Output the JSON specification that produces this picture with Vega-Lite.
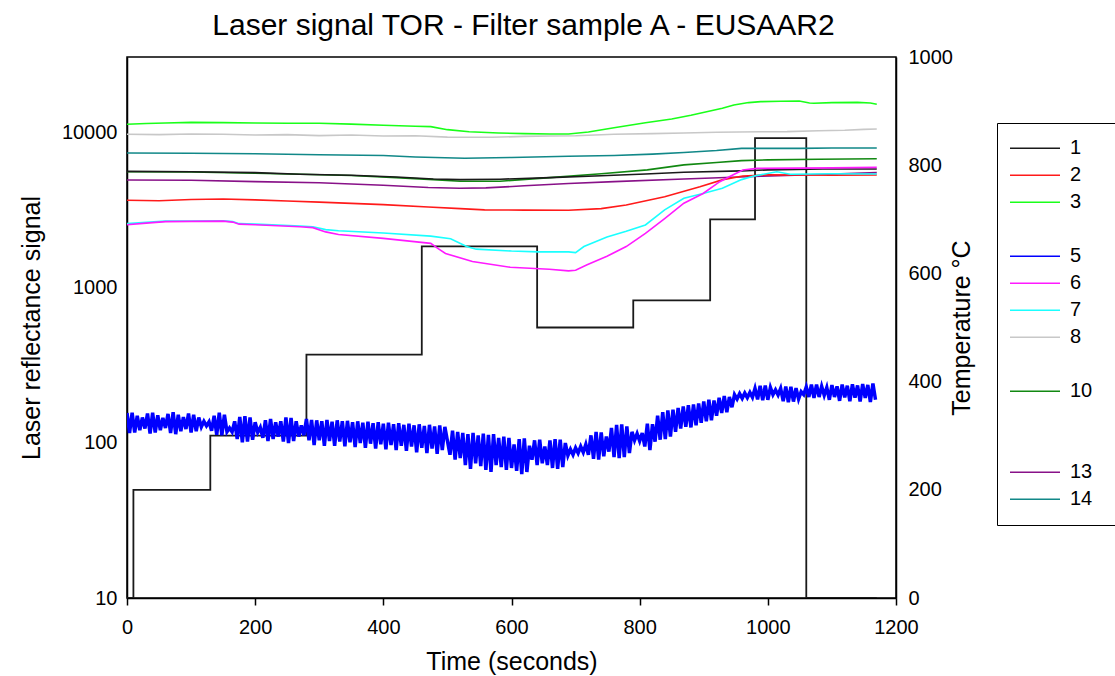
{
"$schema": "https://vega.github.io/schema/vega-lite/v6.json",
"autosize": {"type": "none"},
"width": 769,
"height": 541,
"padding": {"left": 127, "top": 57, "right": 219, "bottom": 78},
"background": "white",
"title": {"text": "Laser signal TOR - Filter sample A - EUSAAR2", "fontSize": 30, "font": "Liberation Sans", "fontWeight": "normal", "color": "black", "offset": 6, "dx": 12},
"config": {
  "font": "Liberation Sans",
  "view": {"stroke": "black", "strokeWidth": 1.5},
  "axis": {"labelFont": "Liberation Sans", "titleFont": "Liberation Sans", "labelFontSize": 20, "titleFontSize": 25, "titleFontWeight": "normal", "labelColor": "black", "titleColor": "black", "grid": false, "domainColor": "black", "domainWidth": 1.5, "tickColor": "black", "tickWidth": 1.5}
},
"datasets": {
"temp": [
{"t":0,"temp":0},{"t":10,"temp":200},{"t":130,"temp":300},{"t":280,"temp":450},{"t":460,"temp":650},{"t":640,"temp":500},{"t":790,"temp":550},{"t":910,"temp":700},{"t":980,"temp":850},{"t":1060,"temp":0},{"t":1170,"temp":0}
],
"sig": [
{"s":"8","t":0,"v":9810},{"s":"8","t":50,"v":9750},{"s":"8","t":100,"v":9850},{"s":"8","t":150,"v":9800},{"s":"8","t":200,"v":9700},{"s":"8","t":250,"v":9750},{"s":"8","t":300,"v":9610},{"s":"8","t":350,"v":9700},{"s":"8","t":400,"v":9550},{"s":"8","t":450,"v":9600},{"s":"8","t":500,"v":9400},{"s":"8","t":570,"v":9380},{"s":"8","t":620,"v":9500},{"s":"8","t":659,"v":9550},{"s":"8","t":700,"v":9600},{"s":"8","t":760,"v":9800},{"s":"8","t":820,"v":9900},{"s":"8","t":869,"v":10000},{"s":"8","t":920,"v":10100},{"s":"8","t":989,"v":10190},{"s":"8","t":1030,"v":10200},{"s":"8","t":1079,"v":10340},{"s":"8","t":1120,"v":10400},{"s":"8","t":1150,"v":10550},{"s":"8","t":1170,"v":10600},
{"s":"14","t":0,"v":7430},{"s":"14","t":100,"v":7400},{"s":"14","t":200,"v":7350},{"s":"14","t":300,"v":7240},{"s":"14","t":400,"v":7150},{"s":"14","t":450,"v":7000},{"s":"14","t":527,"v":6870},{"s":"14","t":600,"v":6950},{"s":"14","t":689,"v":7070},{"s":"14","t":760,"v":7150},{"s":"14","t":820,"v":7300},{"s":"14","t":869,"v":7480},{"s":"14","t":920,"v":7700},{"s":"14","t":959,"v":7950},{"s":"14","t":1050,"v":7950},{"s":"14","t":1100,"v":8000},{"s":"14","t":1170,"v":8000},
{"s":"10","t":0,"v":5620},{"s":"10","t":100,"v":5600},{"s":"10","t":200,"v":5500},{"s":"10","t":270,"v":5420},{"s":"10","t":350,"v":5320},{"s":"10","t":420,"v":5150},{"s":"10","t":478,"v":5000},{"s":"10","t":520,"v":4880},{"s":"10","t":582,"v":4880},{"s":"10","t":660,"v":5150},{"s":"10","t":740,"v":5450},{"s":"10","t":812,"v":5780},{"s":"10","t":869,"v":6220},{"s":"10","t":920,"v":6450},{"s":"10","t":959,"v":6630},{"s":"10","t":1000,"v":6700},{"s":"10","t":1079,"v":6760},{"s":"10","t":1170,"v":6820},
{"s":"1","t":0,"v":5650},{"s":"1","t":100,"v":5620},{"s":"1","t":200,"v":5550},{"s":"1","t":270,"v":5420},{"s":"1","t":350,"v":5330},{"s":"1","t":420,"v":5200},{"s":"1","t":478,"v":5050},{"s":"1","t":520,"v":5000},{"s":"1","t":582,"v":5030},{"s":"1","t":660,"v":5150},{"s":"1","t":740,"v":5300},{"s":"1","t":809,"v":5440},{"s":"1","t":869,"v":5580},{"s":"1","t":959,"v":5690},{"s":"1","t":1000,"v":5780},{"s":"1","t":1086,"v":5850},{"s":"1","t":1170,"v":5860},
{"s":"13","t":0,"v":4970},{"s":"13","t":100,"v":4950},{"s":"13","t":200,"v":4850},{"s":"13","t":300,"v":4770},{"s":"13","t":400,"v":4600},{"s":"13","t":470,"v":4450},{"s":"13","t":519,"v":4400},{"s":"13","t":560,"v":4420},{"s":"13","t":620,"v":4560},{"s":"13","t":689,"v":4720},{"s":"13","t":760,"v":4850},{"s":"13","t":869,"v":5050},{"s":"13","t":989,"v":5260},{"s":"13","t":1080,"v":5400},{"s":"13","t":1170,"v":5550},
{"s":"2","t":0,"v":3680},{"s":"2","t":50,"v":3650},{"s":"2","t":100,"v":3720},{"s":"2","t":150,"v":3750},{"s":"2","t":200,"v":3700},{"s":"2","t":250,"v":3640},{"s":"2","t":300,"v":3580},{"s":"2","t":400,"v":3450},{"s":"2","t":470,"v":3330},{"s":"2","t":520,"v":3250},{"s":"2","t":558,"v":3190},{"s":"2","t":620,"v":3180},{"s":"2","t":689,"v":3170},{"s":"2","t":740,"v":3250},{"s":"2","t":779,"v":3430},{"s":"2","t":839,"v":3880},{"s":"2","t":894,"v":4500},{"s":"2","t":930,"v":5000},{"s":"2","t":961,"v":5280},{"s":"2","t":1000,"v":5370},{"s":"2","t":1100,"v":5330},{"s":"2","t":1170,"v":5350},
{"s":"7","t":0,"v":2600},{"s":"7","t":30,"v":2650},{"s":"7","t":60,"v":2700},{"s":"7","t":100,"v":2700},{"s":"7","t":150,"v":2710},{"s":"7","t":165,"v":2680},{"s":"7","t":175,"v":2600},{"s":"7","t":200,"v":2580},{"s":"7","t":270,"v":2510},{"s":"7","t":290,"v":2480},{"s":"7","t":310,"v":2380},{"s":"7","t":330,"v":2340},{"s":"7","t":400,"v":2260},{"s":"7","t":474,"v":2160},{"s":"7","t":505,"v":2080},{"s":"7","t":530,"v":1850},{"s":"7","t":545,"v":1780},{"s":"7","t":600,"v":1730},{"s":"7","t":641,"v":1710},{"s":"7","t":689,"v":1710},{"s":"7","t":700,"v":1690},{"s":"7","t":713,"v":1850},{"s":"7","t":749,"v":2130},{"s":"7","t":779,"v":2320},{"s":"7","t":809,"v":2550},{"s":"7","t":839,"v":3190},{"s":"7","t":869,"v":3790},{"s":"7","t":899,"v":4070},{"s":"7","t":929,"v":4400},{"s":"7","t":959,"v":5000},{"s":"7","t":977,"v":5260},{"s":"7","t":1014,"v":5620},{"s":"7","t":1035,"v":5410},{"s":"7","t":1100,"v":5450},{"s":"7","t":1170,"v":5440},
{"s":"6","t":0,"v":2560},{"s":"6","t":30,"v":2620},{"s":"6","t":60,"v":2680},{"s":"6","t":100,"v":2690},{"s":"6","t":150,"v":2700},{"s":"6","t":165,"v":2660},{"s":"6","t":175,"v":2580},{"s":"6","t":200,"v":2560},{"s":"6","t":270,"v":2480},{"s":"6","t":290,"v":2450},{"s":"6","t":310,"v":2300},{"s":"6","t":330,"v":2210},{"s":"6","t":400,"v":2090},{"s":"6","t":474,"v":1940},{"s":"6","t":485,"v":1800},{"s":"6","t":497,"v":1670},{"s":"6","t":539,"v":1480},{"s":"6","t":598,"v":1360},{"s":"6","t":659,"v":1320},{"s":"6","t":689,"v":1290},{"s":"6","t":700,"v":1300},{"s":"6","t":718,"v":1410},{"s":"6","t":749,"v":1600},{"s":"6","t":779,"v":1850},{"s":"6","t":809,"v":2250},{"s":"6","t":839,"v":2800},{"s":"6","t":869,"v":3520},{"s":"6","t":899,"v":4070},{"s":"6","t":925,"v":4850},{"s":"6","t":946,"v":5370},{"s":"6","t":961,"v":5770},{"s":"6","t":983,"v":5910},{"s":"6","t":1100,"v":5950},{"s":"6","t":1170,"v":6000},
{"s":"3","t":0,"v":11380},{"s":"3","t":30,"v":11500},{"s":"3","t":60,"v":11600},{"s":"3","t":100,"v":11700},{"s":"3","t":150,"v":11650},{"s":"3","t":200,"v":11600},{"s":"3","t":250,"v":11550},{"s":"3","t":300,"v":11550},{"s":"3","t":350,"v":11400},{"s":"3","t":400,"v":11200},{"s":"3","t":450,"v":11050},{"s":"3","t":474,"v":10980},{"s":"3","t":500,"v":10500},{"s":"3","t":534,"v":10190},{"s":"3","t":580,"v":10000},{"s":"3","t":620,"v":9900},{"s":"3","t":660,"v":9850},{"s":"3","t":689,"v":9850},{"s":"3","t":720,"v":10150},{"s":"3","t":760,"v":10800},{"s":"3","t":809,"v":11650},{"s":"3","t":850,"v":12300},{"s":"3","t":880,"v":13000},{"s":"3","t":929,"v":14430},{"s":"3","t":947,"v":15160},{"s":"3","t":970,"v":15700},{"s":"3","t":989,"v":15920},{"s":"3","t":1020,"v":16000},{"s":"3","t":1049,"v":16080},{"s":"3","t":1065,"v":15600},{"s":"3","t":1072,"v":15550},{"s":"3","t":1100,"v":15700},{"s":"3","t":1140,"v":15750},{"s":"3","t":1160,"v":15600},{"s":"3","t":1170,"v":15300},
{"s":"5","t":0,"v":156},{"s":"5","t":4,"v":116},{"s":"5","t":8,"v":157},{"s":"5","t":12,"v":117},{"s":"5","t":16,"v":150},{"s":"5","t":20,"v":121},{"s":"5","t":24,"v":146},{"s":"5","t":28,"v":124},{"s":"5","t":32,"v":155},{"s":"5","t":36,"v":115},{"s":"5","t":40,"v":157},{"s":"5","t":44,"v":117},{"s":"5","t":48,"v":151},{"s":"5","t":52,"v":121},{"s":"5","t":56,"v":145},{"s":"5","t":60,"v":125},{"s":"5","t":64,"v":154},{"s":"5","t":68,"v":116},{"s":"5","t":72,"v":158},{"s":"5","t":76,"v":114},{"s":"5","t":80,"v":152},{"s":"5","t":84,"v":119},{"s":"5","t":88,"v":147},{"s":"5","t":92,"v":123},{"s":"5","t":96,"v":155},{"s":"5","t":100,"v":117},{"s":"5","t":104,"v":152},{"s":"5","t":108,"v":119},{"s":"5","t":112,"v":146},{"s":"5","t":116,"v":127},{"s":"5","t":120,"v":138},{"s":"5","t":124,"v":129},{"s":"5","t":128,"v":137},{"s":"5","t":132,"v":120},{"s":"5","t":136,"v":150},{"s":"5","t":140,"v":113},{"s":"5","t":144,"v":157},{"s":"5","t":148,"v":112},{"s":"5","t":152,"v":152},{"s":"5","t":156,"v":118},{"s":"5","t":160,"v":125},{"s":"5","t":164,"v":118},{"s":"5","t":168,"v":138},{"s":"5","t":172,"v":106},{"s":"5","t":176,"v":147},{"s":"5","t":180,"v":101},{"s":"5","t":184,"v":149},{"s":"5","t":188,"v":102},{"s":"5","t":192,"v":146},{"s":"5","t":196,"v":105},{"s":"5","t":200,"v":136},{"s":"5","t":204,"v":117},{"s":"5","t":208,"v":126},{"s":"5","t":212,"v":108},{"s":"5","t":216,"v":140},{"s":"5","t":220,"v":103},{"s":"5","t":224,"v":143},{"s":"5","t":228,"v":106},{"s":"5","t":232,"v":136},{"s":"5","t":236,"v":110},{"s":"5","t":240,"v":138},{"s":"5","t":244,"v":102},{"s":"5","t":248,"v":146},{"s":"5","t":252,"v":100},{"s":"5","t":256,"v":145},{"s":"5","t":260,"v":103},{"s":"5","t":264,"v":138},{"s":"5","t":268,"v":110},{"s":"5","t":272,"v":130},{"s":"5","t":276,"v":112},{"s":"5","t":280,"v":143},{"s":"5","t":284,"v":104},{"s":"5","t":288,"v":141},{"s":"5","t":292,"v":97},{"s":"5","t":296,"v":140},{"s":"5","t":300,"v":104},{"s":"5","t":304,"v":138},{"s":"5","t":308,"v":96},{"s":"5","t":312,"v":141},{"s":"5","t":316,"v":103},{"s":"5","t":320,"v":137},{"s":"5","t":324,"v":96},{"s":"5","t":328,"v":140},{"s":"5","t":332,"v":102},{"s":"5","t":336,"v":138},{"s":"5","t":340,"v":95},{"s":"5","t":344,"v":139},{"s":"5","t":348,"v":101},{"s":"5","t":352,"v":136},{"s":"5","t":356,"v":94},{"s":"5","t":360,"v":138},{"s":"5","t":364,"v":100},{"s":"5","t":368,"v":135},{"s":"5","t":372,"v":93},{"s":"5","t":376,"v":137},{"s":"5","t":380,"v":99},{"s":"5","t":384,"v":134},{"s":"5","t":388,"v":92},{"s":"5","t":392,"v":136},{"s":"5","t":396,"v":98},{"s":"5","t":400,"v":133},{"s":"5","t":404,"v":91},{"s":"5","t":408,"v":135},{"s":"5","t":412,"v":97},{"s":"5","t":416,"v":132},{"s":"5","t":420,"v":90},{"s":"5","t":424,"v":134},{"s":"5","t":428,"v":96},{"s":"5","t":432,"v":131},{"s":"5","t":436,"v":89},{"s":"5","t":440,"v":133},{"s":"5","t":444,"v":95},{"s":"5","t":448,"v":130},{"s":"5","t":452,"v":87},{"s":"5","t":456,"v":132},{"s":"5","t":460,"v":93},{"s":"5","t":464,"v":129},{"s":"5","t":468,"v":86},{"s":"5","t":472,"v":131},{"s":"5","t":476,"v":92},{"s":"5","t":480,"v":128},{"s":"5","t":484,"v":85},{"s":"5","t":488,"v":130},{"s":"5","t":492,"v":90},{"s":"5","t":496,"v":127},{"s":"5","t":504,"v":84},{"s":"5","t":508,"v":120},{"s":"5","t":512,"v":78},{"s":"5","t":516,"v":118},{"s":"5","t":520,"v":80},{"s":"5","t":524,"v":116},{"s":"5","t":528,"v":72},{"s":"5","t":532,"v":114},{"s":"5","t":536,"v":68},{"s":"5","t":540,"v":116},{"s":"5","t":544,"v":74},{"s":"5","t":548,"v":112},{"s":"5","t":552,"v":71},{"s":"5","t":556,"v":115},{"s":"5","t":560,"v":67},{"s":"5","t":564,"v":113},{"s":"5","t":568,"v":65},{"s":"5","t":572,"v":114},{"s":"5","t":576,"v":72},{"s":"5","t":580,"v":108},{"s":"5","t":584,"v":70},{"s":"5","t":588,"v":110},{"s":"5","t":592,"v":67},{"s":"5","t":596,"v":108},{"s":"5","t":600,"v":69},{"s":"5","t":604,"v":98},{"s":"5","t":608,"v":66},{"s":"5","t":612,"v":106},{"s":"5","t":616,"v":63},{"s":"5","t":620,"v":107},{"s":"5","t":624,"v":65},{"s":"5","t":628,"v":96},{"s":"5","t":632,"v":78},{"s":"5","t":636,"v":104},{"s":"5","t":640,"v":72},{"s":"5","t":644,"v":105},{"s":"5","t":648,"v":74},{"s":"5","t":652,"v":95},{"s":"5","t":656,"v":72},{"s":"5","t":660,"v":104},{"s":"5","t":664,"v":69},{"s":"5","t":668,"v":106},{"s":"5","t":672,"v":68},{"s":"5","t":676,"v":105},{"s":"5","t":680,"v":70},{"s":"5","t":684,"v":100},{"s":"5","t":688,"v":83},{"s":"5","t":692,"v":91},{"s":"5","t":696,"v":84},{"s":"5","t":700,"v":93},{"s":"5","t":704,"v":86},{"s":"5","t":708,"v":95},{"s":"5","t":712,"v":87},{"s":"5","t":716,"v":98},{"s":"5","t":720,"v":84},{"s":"5","t":724,"v":112},{"s":"5","t":728,"v":79},{"s":"5","t":732,"v":118},{"s":"5","t":736,"v":78},{"s":"5","t":740,"v":117},{"s":"5","t":744,"v":82},{"s":"5","t":748,"v":110},{"s":"5","t":752,"v":88},{"s":"5","t":756,"v":125},{"s":"5","t":760,"v":81},{"s":"5","t":764,"v":131},{"s":"5","t":768,"v":80},{"s":"5","t":772,"v":132},{"s":"5","t":776,"v":81},{"s":"5","t":780,"v":128},{"s":"5","t":784,"v":86},{"s":"5","t":788,"v":118},{"s":"5","t":792,"v":104},{"s":"5","t":796,"v":115},{"s":"5","t":800,"v":103},{"s":"5","t":804,"v":116},{"s":"5","t":808,"v":95},{"s":"5","t":812,"v":133},{"s":"5","t":816,"v":90},{"s":"5","t":820,"v":132},{"s":"5","t":824,"v":102},{"s":"5","t":828,"v":150},{"s":"5","t":832,"v":105},{"s":"5","t":836,"v":158},{"s":"5","t":840,"v":106},{"s":"5","t":844,"v":162},{"s":"5","t":848,"v":110},{"s":"5","t":852,"v":164},{"s":"5","t":856,"v":118},{"s":"5","t":860,"v":168},{"s":"5","t":864,"v":124},{"s":"5","t":868,"v":172},{"s":"5","t":872,"v":127},{"s":"5","t":876,"v":175},{"s":"5","t":880,"v":126},{"s":"5","t":884,"v":177},{"s":"5","t":888,"v":130},{"s":"5","t":892,"v":180},{"s":"5","t":896,"v":135},{"s":"5","t":900,"v":185},{"s":"5","t":904,"v":138},{"s":"5","t":908,"v":190},{"s":"5","t":912,"v":140},{"s":"5","t":916,"v":188},{"s":"5","t":920,"v":150},{"s":"5","t":924,"v":196},{"s":"5","t":928,"v":156},{"s":"5","t":932,"v":201},{"s":"5","t":936,"v":158},{"s":"5","t":940,"v":198},{"s":"5","t":944,"v":170},{"s":"5","t":948,"v":205},{"s":"5","t":952,"v":192},{"s":"5","t":956,"v":208},{"s":"5","t":960,"v":194},{"s":"5","t":964,"v":210},{"s":"5","t":968,"v":196},{"s":"5","t":972,"v":212},{"s":"5","t":976,"v":197},{"s":"5","t":980,"v":225},{"s":"5","t":984,"v":191},{"s":"5","t":988,"v":234},{"s":"5","t":992,"v":189},{"s":"5","t":996,"v":235},{"s":"5","t":1000,"v":190},{"s":"5","t":1004,"v":228},{"s":"5","t":1008,"v":205},{"s":"5","t":1012,"v":220},{"s":"5","t":1016,"v":204},{"s":"5","t":1020,"v":225},{"s":"5","t":1024,"v":186},{"s":"5","t":1028,"v":231},{"s":"5","t":1032,"v":183},{"s":"5","t":1036,"v":230},{"s":"5","t":1040,"v":185},{"s":"5","t":1044,"v":226},{"s":"5","t":1048,"v":192},{"s":"5","t":1052,"v":214},{"s":"5","t":1056,"v":205},{"s":"5","t":1060,"v":230},{"s":"5","t":1064,"v":198},{"s":"5","t":1068,"v":238},{"s":"5","t":1072,"v":195},{"s":"5","t":1076,"v":238},{"s":"5","t":1080,"v":198},{"s":"5","t":1084,"v":232},{"s":"5","t":1088,"v":203},{"s":"5","t":1092,"v":228},{"s":"5","t":1096,"v":190},{"s":"5","t":1100,"v":236},{"s":"5","t":1104,"v":198},{"s":"5","t":1108,"v":232},{"s":"5","t":1112,"v":187},{"s":"5","t":1116,"v":238},{"s":"5","t":1120,"v":197},{"s":"5","t":1124,"v":234},{"s":"5","t":1128,"v":186},{"s":"5","t":1132,"v":239},{"s":"5","t":1136,"v":196},{"s":"5","t":1140,"v":235},{"s":"5","t":1144,"v":185},{"s":"5","t":1148,"v":240},{"s":"5","t":1152,"v":195},{"s":"5","t":1156,"v":237},{"s":"5","t":1160,"v":184},{"s":"5","t":1164,"v":242},{"s":"5","t":1168,"v":190}
]
},
"layer": [
{
  "data": {"name": "temp"},
  "mark": {"type": "line", "interpolate": "step-after", "color": "#1a1a1a", "strokeWidth": 1.8, "clip": true},
  "encoding": {
    "x": {"field": "t", "type": "quantitative", "scale": {"domain": [0, 1200], "nice": false},
          "axis": {"values": [0, 200, 400, 600, 800, 1000, 1200], "format": "d", "title": "Time (seconds)", "tickSize": 7, "labelPadding": 12, "titlePadding": 12, "labelFlush": false}},
    "y": {"field": "temp", "type": "quantitative", "scale": {"domain": [0, 1000], "nice": false},
          "axis": {"orient": "right", "title": "Temperature °C", "values": [0, 200, 400, 600, 800, 1000], "format": "d", "ticks": false, "labelPadding": 12, "titleAngle": 270, "titleBaseline": "top", "titleAlign": "center", "titlePadding": -3}}
  }
},
{
  "data": {"name": "sig"},
  "mark": {"type": "line", "clip": true},
  "encoding": {
    "x": {"field": "t", "type": "quantitative"},
    "y": {"field": "v", "type": "quantitative", "scale": {"type": "log", "domain": [10, 30900], "nice": false},
          "axis": {"orient": "left", "title": "Laser reflectance signal", "values": [10, 100, 1000, 10000], "format": "d", "ticks": false, "labelPadding": 10, "titlePadding": 17}},
    "strokeWidth": {"condition": {"test": "datum.s === '5'", "value": 3.5}, "value": 1.6},
    "color": {"field": "s", "type": "nominal",
      "scale": {"domain": ["1","2","3","4","5","6","7","8","9","10","11","12","13","14"],
                "range": ["#1a1a1a","#ff1a1a","#1aff1a","transparent","#0000ff","#ff1aff","#1affff","#c8c8c8","transparent","#118811","transparent","transparent","#881188","#118888"]},
      "legend": {"orient": "none", "legendX": 870, "legendY": 66, "title": null, "symbolType": "stroke", "symbolSize": 2500, "symbolStrokeWidth": 1.5, "labelFontSize": 20, "labelFont": "Liberation Sans", "labelColor": "black", "labelOffset": 9, "clipHeight": 26.7, "rowPadding": 0, "padding": 12, "strokeColor": "black",
                 "labelExpr": "indexof(['4','9','11','12'], datum.label) >= 0 ? '' : datum.label + '\u2800'"}
    }
  }
}
],
"resolve": {"scale": {"y": "independent"}}
}
